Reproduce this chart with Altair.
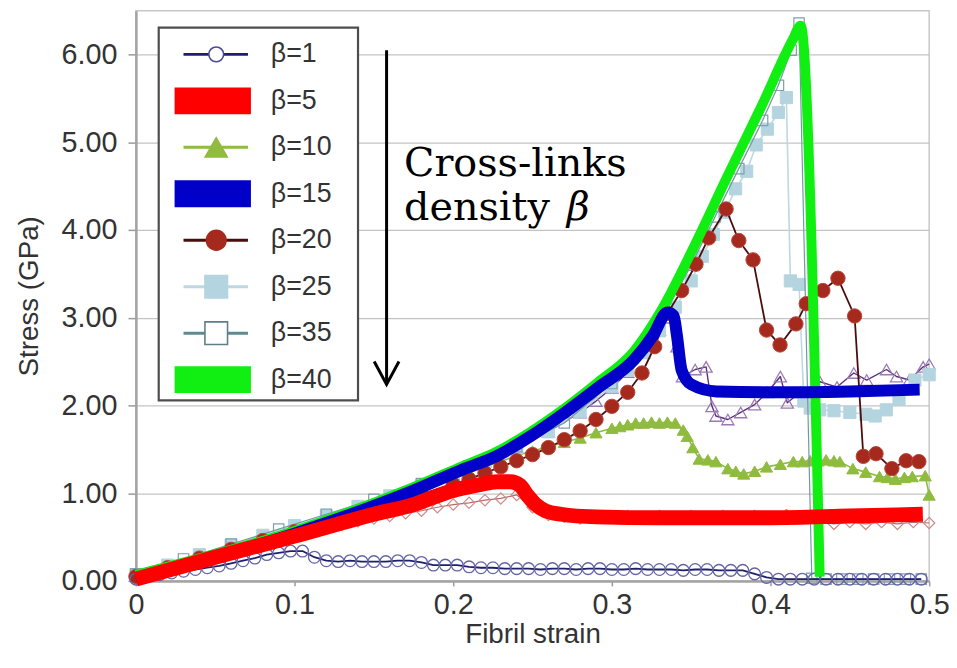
import altair as alt
import pandas as pd

# ---------------- data ----------------
# beta = 1 (navy, open circles)
b1_x = [round(0.0075 * i, 4) for i in range(67)]
b1_y = [0.02, 0.05, 0.07, 0.09, 0.11, 0.13, 0.15, 0.17, 0.20, 0.23,
        0.26, 0.30, 0.32, 0.34, 0.34, 0.27, 0.23, 0.22, 0.23, 0.22,
        0.22, 0.22, 0.23, 0.23, 0.21, 0.18, 0.18, 0.18, 0.16, 0.15,
        0.15, 0.14, 0.14, 0.14, 0.13, 0.14, 0.14, 0.13, 0.14, 0.14,
        0.13, 0.13, 0.14, 0.13, 0.13, 0.13, 0.12, 0.13, 0.13, 0.12,
        0.12, 0.12, 0.08, 0.04, 0.02, 0.02, 0.02, 0.02, 0.02, 0.02,
        0.02, 0.02, 0.02, 0.02, 0.02, 0.02, 0.02]

# underlying open diamonds (no legend entry)
dia_x = [round(0.01 * i, 2) for i in range(51)]
dia_y = [0.04, 0.09, 0.14, 0.19, 0.24, 0.29, 0.34, 0.39, 0.44, 0.48,
         0.52, 0.56, 0.60, 0.64, 0.68, 0.71, 0.74, 0.77, 0.80, 0.84,
         0.87, 0.89, 0.92, 0.94, 0.98, 0.84, 0.75, 0.73, 0.71, 0.74,
         0.72, 0.74, 0.72, 0.74, 0.72, 0.74, 0.72, 0.74, 0.72, 0.74,
         0.72, 0.75, 0.73, 0.68, 0.65, 0.67, 0.65, 0.67, 0.65, 0.67, 0.66]

# beta = 10 (green triangles)
b10_x = [0, 0.02, 0.04, 0.06, 0.08, 0.1, 0.12, 0.14, 0.16, 0.18,
         0.2, 0.21, 0.22, 0.23, 0.24, 0.25, 0.26, 0.27, 0.28, 0.29,
         0.3, 0.305, 0.31, 0.315, 0.32, 0.325, 0.33, 0.335, 0.34, 0.345,
         0.3475, 0.351, 0.355, 0.3605, 0.3656, 0.3731, 0.3781, 0.3831, 0.39, 0.3975,
         0.4062, 0.4144, 0.42, 0.425, 0.43, 0.435, 0.44, 0.4437, 0.4519, 0.46,
         0.4687, 0.4737, 0.4787, 0.4844, 0.4894, 0.4975, 0.5]
b10_y = [0.06, 0.16, 0.27, 0.38, 0.49, 0.6, 0.71, 0.82, 0.94, 1.05,
         1.17, 1.23, 1.3, 1.36, 1.43, 1.48, 1.53, 1.58, 1.63, 1.69,
         1.74, 1.76, 1.78, 1.8, 1.8, 1.81, 1.8, 1.81, 1.8, 1.72,
         1.65, 1.52, 1.39, 1.38, 1.36, 1.28, 1.25, 1.22, 1.25, 1.3,
         1.33, 1.36, 1.36, 1.37, 1.37, 1.38, 1.37, 1.36, 1.28, 1.24,
         1.19, 1.18, 1.16, 1.18, 1.19, 1.2, 0.98]

# underlying open triangles (no legend entry)
tri_x = [0, 0.02, 0.04, 0.06, 0.08, 0.1, 0.12, 0.14, 0.16, 0.18,
         0.2, 0.22, 0.24, 0.26, 0.28, 0.29, 0.3, 0.31, 0.32, 0.325,
         0.33, 0.336, 0.341, 0.3445, 0.3525, 0.3594, 0.3631, 0.3656, 0.3731, 0.3812,
         0.39, 0.3981, 0.4062, 0.4106, 0.4187, 0.4312, 0.4419, 0.4525, 0.4606, 0.4731,
         0.4794, 0.4875, 0.4962, 0.5]
tri_y = [0.06, 0.18, 0.29, 0.4, 0.51, 0.62, 0.73, 0.85, 0.97, 1.09,
         1.22, 1.36, 1.52, 1.7, 1.92, 2.05, 2.2, 2.38, 2.6, 2.72,
         2.86, 3.0, 2.67, 2.33, 2.41, 2.44, 1.99, 1.88, 1.84, 1.92,
         2.01, 2.15, 2.33, 2.03, 2.15, 2.27, 2.21, 2.37, 2.29, 2.41,
         2.33, 2.29, 2.44, 2.47]

# beta = 20 (brown filled circles)
b20_x = [0, 0.02, 0.04, 0.06, 0.08, 0.1, 0.12, 0.14, 0.16, 0.18,
         0.2, 0.21, 0.22, 0.23, 0.24, 0.25, 0.26, 0.27, 0.28, 0.29,
         0.3, 0.31, 0.319, 0.327, 0.335, 0.344, 0.353, 0.361, 0.372, 0.38,
         0.389, 0.3975, 0.406, 0.416, 0.4225, 0.433, 0.4425, 0.453, 0.4585, 0.4665,
         0.4765, 0.4855, 0.4935]
b20_y = [0.05, 0.15, 0.26, 0.36, 0.46, 0.56, 0.66, 0.77, 0.88, 0.99,
         1.1, 1.16, 1.23, 1.3, 1.37, 1.44, 1.52, 1.61, 1.71, 1.84,
         1.99, 2.15, 2.37, 2.67, 3.05, 3.31, 3.61, 3.91, 4.24, 3.88,
         3.66, 2.86, 2.69, 2.93, 3.16, 3.31, 3.45, 3.02, 1.42, 1.45,
         1.28, 1.37, 1.36]

# beta = 25 (light blue squares)
b25_x = [0, 0.02, 0.04, 0.06, 0.08, 0.1, 0.12, 0.14, 0.16, 0.18,
         0.2, 0.22, 0.24, 0.26, 0.28, 0.3, 0.31, 0.32, 0.33, 0.34,
         0.35, 0.357, 0.364, 0.371, 0.378, 0.385, 0.391, 0.398, 0.405, 0.41,
         0.4125, 0.418, 0.421, 0.425, 0.431, 0.44, 0.45, 0.46, 0.466, 0.473,
         0.481, 0.491, 0.5]
b25_y = [0.07, 0.18, 0.3, 0.41, 0.52, 0.63, 0.74, 0.85, 0.97, 1.09,
         1.22, 1.36, 1.52, 1.7, 1.93, 2.22, 2.4, 2.6, 2.85, 3.12,
         3.42, 3.7, 3.95, 4.2, 4.47, 4.67, 4.97, 5.15, 5.34, 5.51,
         3.42, 3.38, 2.05, 1.97, 1.95, 1.94, 1.92, 1.9, 1.88, 1.95,
         2.07, 2.29, 2.35]

# beta = 35 (teal open squares)
b35_x = [0, 0.03, 0.06, 0.09, 0.12, 0.15, 0.18, 0.21, 0.24, 0.27,
         0.3, 0.32, 0.335, 0.35, 0.365, 0.38, 0.395, 0.405, 0.413, 0.418,
         0.426, 0.435, 0.445, 0.455, 0.465, 0.475, 0.485, 0.495]
b35_y = [0.08, 0.25, 0.42, 0.59, 0.76, 0.93, 1.11, 1.31, 1.53, 1.8,
         2.25, 2.68, 3.1, 3.6, 4.15, 4.7, 5.25, 5.65, 6.05, 6.36,
         0.03, 0.02, 0.02, 0.02, 0.02, 0.02, 0.02, 0.02]

# thick overlay curves
b40_x = [0, 0.1, 0.175, 0.206, 0.227, 0.248, 0.269, 0.291, 0.314, 0.331,
         0.352, 0.3725, 0.394, 0.414, 0.419, 0.431]
b40_y = [0.07, 0.57, 1.07, 1.31, 1.47, 1.69, 1.95, 2.26, 2.62, 3.08,
         3.82, 4.6, 5.4, 6.17, 6.33, 0.05]

b15_x = [0, 0.1, 0.175, 0.206, 0.227, 0.248, 0.269, 0.291, 0.314, 0.326,
         0.335, 0.339, 0.341, 0.344, 0.35, 0.366, 0.4, 0.45, 0.494]
b15_y = [0.03, 0.54, 1.03, 1.27, 1.42, 1.64, 1.9, 2.2, 2.52, 2.8,
         3.06, 3.02, 2.8, 2.4, 2.24, 2.16, 2.15, 2.16, 2.18]

b5_x = [0, 0.05, 0.1, 0.15, 0.175, 0.2, 0.215, 0.228, 0.236, 0.242,
        0.247, 0.252, 0.258, 0.268, 0.29, 0.33, 0.4, 0.45, 0.496]
b5_y = [0.02, 0.27, 0.51, 0.76, 0.87, 1.03, 1.09, 1.13, 1.13, 1.09,
        0.97, 0.87, 0.8, 0.76, 0.73, 0.72, 0.72, 0.74, 0.76]

legend_labels = ["β=1", "β=5", "β=10", "β=15", "β=20", "β=25", "β=35", "β=40"]

x_ticks = [0, 0.1, 0.2, 0.3, 0.4, 0.5]
y_ticks = [0, 1, 2, 3, 4, 5, 6]

note_lines = ["Cross-links", "density"]
note_symbol = "β"

# ---------------- chart ----------------
FONT = "Liberation Sans"

X = alt.X("x:Q", scale=alt.Scale(domain=[0, 0.5], nice=False),
          axis=alt.Axis(values=x_ticks, format="~g", title="Fibril strain",
                        grid=False, tickSize=5, labelPadding=5,
                        labelFlush=False, titlePadding=1))
Y = alt.Y("y:Q", scale=alt.Scale(domain=[0, 6.5], nice=False),
          axis=alt.Axis(values=y_ticks, format=".2f", title="Stress (GPa)",
                        grid=True, tickSize=8, labelPadding=11,
                        labelFlush=False, titlePadding=18))


def frame(xs, ys):
    return pd.DataFrame({"x": xs, "y": ys})


def line(d, color, width, interp="linear"):
    return alt.Chart(d).mark_line(color=color, strokeWidth=width,
                                  interpolate=interp, strokeCap="butt",
                                  strokeJoin="round").encode(x=X, y=Y)


def open_pts(d, shape, size, color, sw=1.3):
    return alt.Chart(d).mark_point(shape=shape, size=size, filled=False,
                                   color=color, strokeWidth=sw,
                                   opacity=1).encode(x=X, y=Y)


def full_pts(d, shape, size, fill, stroke, sw=1.0):
    return alt.Chart(d).mark_point(shape=shape, size=size, filled=True,
                                   fill=fill, stroke=stroke, strokeWidth=sw,
                                   opacity=1).encode(x=X, y=Y)


d_b1 = frame(b1_x, b1_y)
d_dia = frame(dia_x, dia_y)
d_b10 = frame(b10_x, b10_y)
d_tri = frame(tri_x, tri_y)
d_b20 = frame(b20_x, b20_y)
d_b25 = frame(b25_x, b25_y)
d_b35 = frame(b35_x, b35_y)

layers = [
    line(d_dia, "#b86a6a", 1.2), open_pts(d_dia, "diamond", 130, "#cf8a8a", 1.2),
    line(d_tri, "#5e2f78", 1.4), open_pts(d_tri, "triangle-up", 150, "#9a7ab5", 1.3),
    line(d_b10, "#8fbb3f", 1.6), full_pts(d_b10, "triangle-up", 150, "#8fbb3f", "#8fbb3f"),
    line(d_b25, "#bcd8e2", 1.6), full_pts(d_b25, "square", 150, "#b4d4df", "#b4d4df"),
    line(d_b35, "#6f9aa2", 1.2), open_pts(d_b35, "square", 110, "#7f9fb0", 1.2),
    line(d_b20, "#4a0d0d", 1.8), full_pts(d_b20, "circle", 210, "#a5291c", "#b8473a", 1.0),
    line(d_b1, "#1f1f6b", 1.8), open_pts(d_b1, "circle", 140, "#6464a6", 1.3),
    line(frame(b40_x, b40_y), "#11ee11", 10, "monotone"),
    line(frame(b15_x, b15_y), "#0000c8", 12, "monotone"),
    line(frame(b5_x, b5_y), "#ff0000", 15, "monotone"),
]

# arrow and note
arrow_df = pd.DataFrame({"x": [0.158], "y": [6.05], "y2": [2.24]})
tip_df = pd.DataFrame({"x": [0.158], "y": [2.24]})
arrow = alt.Chart(arrow_df).mark_rule(color="black", strokeWidth=3,
                                      strokeCap="butt").encode(
    x=X, y=Y, y2=alt.Y2("y2:Q"))
tip = alt.Chart(tip_df).mark_point(shape="M-1,-1.85L0,0L1,-1.85", size=625,
                                   filled=False, color="black",
                                   strokeWidth=3, opacity=1,
                                   strokeJoin="miter").encode(x=X, y=Y)
note_df = pd.DataFrame({"x": [0.169, 0.169], "y": [4.62, 4.12],
                        "t": note_lines})
note = alt.Chart(note_df).mark_text(font="DejaVu Serif", fontSize=40,
                                    align="left", baseline="alphabetic",
                                    color="black").encode(x=X, y=Y, text="t:N")
beta_df = pd.DataFrame({"x": [0.169], "y": [4.12], "t": [note_symbol]})
beta = alt.Chart(beta_df).mark_text(font="DejaVu Serif", fontSize=40,
                                    fontStyle="italic", align="left",
                                    baseline="alphabetic", dx=164,
                                    color="black").encode(x=X, y=Y, text="t:N")

main = alt.layer(*layers, arrow, tip, note, beta)

# ---------------- legend (drawn inside the plot) ----------------
LEG = alt.Scale(domain=[0, 7], range=[44, 372])
LY = alt.Y("row:Q", scale=LEG, axis=None)
leg_df = pd.DataFrame({"row": list(range(8)), "label": legend_labels})
box_df = pd.DataFrame({"row": [0]})

legend_layers = [
    alt.Chart(box_df).mark_rect(fill="white", stroke="#4d4d4d",
                                strokeWidth=2.2).encode(
        x=alt.value(23), x2=alt.value(224), y=alt.value(17), y2=alt.value(393))
]


def leg_row(i):
    return leg_df.iloc[[i]].reset_index(drop=True)


def leg_marker(i, line_color, shape, size, filled, color, stroke=None, sw=1.5):
    r = alt.Chart(leg_row(i)).mark_rule(color=line_color, strokeWidth=3).encode(
        x=alt.value(48), x2=alt.value(113), y=LY)
    if filled:
        p = alt.Chart(leg_row(i)).mark_point(shape=shape, size=size, filled=True,
                                             fill=color, stroke=stroke or color,
                                             strokeWidth=sw, opacity=1).encode(
            x=alt.value(81), y=LY)
    else:
        p = alt.Chart(leg_row(i)).mark_point(shape=shape, size=size, filled=False,
                                             fill="white", color=color,
                                             strokeWidth=sw, opacity=1).encode(
            x=alt.value(81), y=LY)
    return [r, p]


def leg_thick(i, color):
    return [alt.Chart(leg_row(i)).mark_rule(color=color, strokeWidth=27,
                                            strokeCap="butt").encode(
        x=alt.value(39), x2=alt.value(116), y=LY)]


legend_layers += leg_marker(0, "#1f1f6b", "circle", 225, False, "#4a4a95", sw=1.6)
legend_layers += leg_thick(1, "#ff0000")
legend_layers += leg_marker(2, "#8fbb3f", "triangle-up", 500, True, "#8fbb3f")
legend_layers += leg_thick(3, "#0000c8")
legend_layers += leg_marker(4, "#4a0d0d", "circle", 400, True, "#a5291c", "#a5291c")
legend_layers += leg_marker(5, "#bcd8e2", "square", 520, True, "#b4d4df")
legend_layers += leg_marker(6, "#5e8a90", "square", 520, False, "#5e7f86", sw=1.6)
legend_layers += leg_thick(7, "#11ee11")
legend_layers.append(
    alt.Chart(leg_df).mark_text(align="left", baseline="middle", fontSize=27,
                                font=FONT, color="#333333").encode(
        x=alt.value(136), y=LY, text="label:N"))

legend = alt.layer(*legend_layers)

chart = alt.layer(main, legend).resolve_scale(y="independent").properties(
    width=800, height=575,
    padding={"left": 129, "top": 0, "right": 20, "bottom": 76},
    autosize=alt.AutoSizeParams(type="none"),
).configure_view(
    stroke="#c8c8c8", strokeWidth=1.5
).configure_axis(
    domainColor="#a3a3a3", domainWidth=2.5,
    tickColor="#9a9a9a", tickWidth=1.5,
    gridColor="#c4c4c4", gridWidth=1.3,
    labelFont=FONT, labelFontSize=29, labelColor="#333333",
    titleFont=FONT, titleFontSize=28, titleColor="#333333",
    titleFontWeight="normal",
)

chart.save("out.html", embed_options={"renderer": "svg", "actions": False})
